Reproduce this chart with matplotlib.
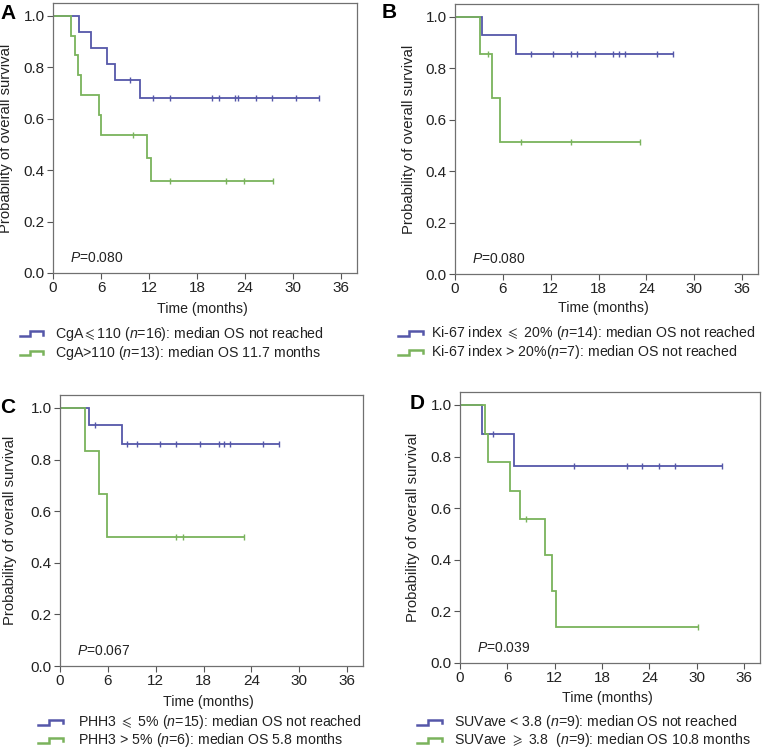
import matplotlib
matplotlib.use("Agg")
import matplotlib.pyplot as plt
from matplotlib.lines import Line2D

plt.rcParams['font.family'] = ['Liberation Sans', 'DejaVu Sans']
plt.rcParams['mathtext.fontset'] = 'custom'
plt.rcParams['mathtext.rm'] = 'Liberation Sans'
plt.rcParams['mathtext.it'] = 'Liberation Sans:italic'
plt.rcParams['mathtext.fallback'] = 'stix'

BLUE = '#5557a9'
GREEN = '#7ab35c'

# ---------------- data ----------------
x_ticks = [0, 6, 12, 18, 24, 30, 36]
y_ticks = [0.0, 0.2, 0.4, 0.6, 0.8, 1.0]

# Panel A (CgA)
A_blue_times = [3.3, 4.8, 6.8, 7.7, 10.9]
A_blue_surv = [0.9375, 0.875, 0.8125, 0.75, 0.682]
A_blue_cens = [9.6, 12.5, 14.6, 19.9, 20.7, 22.7, 23.1, 25.4, 27.4, 30.4, 33.3]
A_green_times = [2.2, 2.8, 3.1, 3.5, 5.8, 6.0, 11.8, 12.3]
A_green_surv = [0.923, 0.846, 0.769, 0.692, 0.615, 0.538, 0.449, 0.359]
A_green_cens = [10.0, 14.6, 21.6, 23.9, 27.5]
A_labels = [r"CgA$\leqslant$110 ($n$=16): median OS not reached",
            r"CgA>110 ($n$=13): median OS 11.7 months"]
A_p = "0.080"

# Panel B (Ki-67)
B_blue_times = [3.4, 7.6]
B_blue_surv = [0.929, 0.857]
B_blue_cens = [9.5, 12.3, 14.5, 15.3, 17.6, 19.8, 20.6, 21.3, 25.3, 27.3]
B_green_times = [3.1, 4.7, 5.7]
B_green_surv = [0.857, 0.686, 0.514]
B_green_cens = [4.2, 8.3, 14.5, 23.2]
B_labels = [r"Ki-67 index $\leqslant$ 20% ($n$=14): median OS not reached",
            r"Ki-67 index > 20%($n$=7): median OS not reached"]
B_p = "0.080"

# Panel C (PHH3)
C_blue_times = [3.6, 7.8]
C_blue_surv = [0.933, 0.86]
C_blue_cens = [4.4, 8.4, 9.7, 12.6, 14.5, 17.6, 19.9, 20.6, 21.3, 25.4, 27.5]
C_green_times = [3.1, 4.9, 5.9]
C_green_surv = [0.833, 0.667, 0.5]
C_green_cens = [14.5, 15.4, 23.1]
C_labels = [r"PHH3 $\leqslant$ 5% ($n$=15): median OS not reached",
            r"PHH3 > 5% ($n$=6): median OS 5.8 months"]
C_p = "0.067"

# Panel D (SUVave)
D_blue_times = [2.8, 6.8]
D_blue_surv = [0.889, 0.762]
D_blue_cens = [4.2, 14.5, 21.2, 23.0, 25.2, 27.2, 33.2]
D_green_times = [3.15, 3.5, 6.3, 7.6, 10.8, 11.7, 12.1]
D_green_surv = [0.889, 0.778, 0.667, 0.556, 0.417, 0.278, 0.139]
D_green_cens = [8.3, 30.2]
D_labels = [r"SUVave < 3.8 ($n$=9): median OS not reached",
            r"SUVave $\geqslant$ 3.8  ($n$=9): median OS 10.8 months"]
D_p = "0.039"

W, H = 764, 751
fig = plt.figure(figsize=(W / 100, H / 100), dpi=100)


def fx(px):
    return px / W


def fy(py):
    return 1 - py / H


def surv_at(t, times, surv):
    s = 1.0
    for tt, ss in zip(times, surv):
        if tt <= t:
            s = ss
    return s


def draw_curve(ax, times, surv, cens, color):
    end = max(cens + times)
    xs = [0] + times + [end]
    ys = [1.0] + surv + [surv[-1]]
    ax.step(xs, ys, where='post', color=color, lw=1.3, solid_joinstyle='miter')
    cy = [surv_at(c, times, surv) for c in cens]
    ax.plot(cens, cy, ls='none', marker='|', ms=4, mew=1.0, color=color)


def legend_icon(x0, x1, yc, color):
    h = 5
    xm = x0 + 0.45 * (x1 - x0)
    xs = [x0, xm, xm, x1, x1]
    ys = [yc + h / 2, yc + h / 2, yc - h / 2, yc - h / 2, yc + h / 4]
    fig.add_artist(Line2D([fx(v) for v in xs], [fy(v) for v in ys],
                          color=color, lw=1.8, solid_joinstyle='miter'))


panels = [
    dict(letter='A', box=(53, 357, 3, 273), letter_xy=(0, 19), ylab_x=-0.132,
         blue=(A_blue_times, A_blue_surv, A_blue_cens),
         green=(A_green_times, A_green_surv, A_green_cens),
         labels=A_labels, p=A_p, xlabel_y=309,
         icon=(20, 43), text_x=55, rows=(334, 353)),
    dict(letter='B', box=(455, 758, 4, 274), letter_xy=(382, 18), ylab_x=-0.129,
         blue=(B_blue_times, B_blue_surv, B_blue_cens),
         green=(B_green_times, B_green_surv, B_green_cens),
         labels=B_labels, p=B_p, xlabel_y=308,
         icon=(398, 423), text_x=431, rows=(333, 352)),
    dict(letter='C', box=(60, 363, 395, 666), letter_xy=(0, 413), ylab_x=-0.142,
         blue=(C_blue_times, C_blue_surv, C_blue_cens),
         green=(C_green_times, C_green_surv, C_green_cens),
         labels=C_labels, p=C_p, xlabel_y=702,
         icon=(38, 63), text_x=78, rows=(722, 740)),
    dict(letter='D', box=(460, 760, 392, 663), letter_xy=(410, 409), ylab_x=-0.133,
         blue=(D_blue_times, D_blue_surv, D_blue_cens),
         green=(D_green_times, D_green_surv, D_green_cens),
         labels=D_labels, p=D_p, xlabel_y=698,
         icon=(417, 442), text_x=454, rows=(722, 740)),
]

for pnl in panels:
    l, r, t, b = pnl['box']
    ax = fig.add_axes([fx(l), fy(b), (r - l) / W, (b - t) / H])
    draw_curve(ax, *pnl['blue'], BLUE)
    draw_curve(ax, *pnl['green'], GREEN)
    ax.set_xlim(0, 38)
    ax.set_ylim(0, 1.05)
    ax.set_xticks(x_ticks)
    ax.set_yticks(y_ticks)
    ax.set_yticklabels([f"{v:.1f}" for v in y_ticks])
    ax.tick_params(direction='out', length=4, width=0.8, color='#555555',
                   labelsize=11, labelcolor='#222222', pad=2)
    for s in ax.spines.values():
        s.set_color('#707070')
        s.set_linewidth(0.9)
    ax.set_ylabel('Probability of overall survival', fontsize=10.7, color='#222222')
    ax.yaxis.set_label_coords(pnl['ylab_x'], 0.5)
    ax.text(2.1, 0.058, rf"$P$=" + pnl['p'], fontsize=10, color='#222222',
            va='center', ha='left')
    fig.text(fx((l + r) / 2 - 3), fy(pnl['xlabel_y']), 'Time (months)', fontsize=10.2,
             color='#222222', ha='center', va='center')
    lx, ly = pnl['letter_xy']
    fig.text(fx(lx), fy(ly), pnl['letter'], fontsize=15, fontweight='bold',
             ha='left', va='baseline', color='black')
    for lab, row, col in zip(pnl['labels'], pnl['rows'], [BLUE, GREEN]):
        legend_icon(pnl['icon'][0], pnl['icon'][1], row, col)
        fig.text(fx(pnl['text_x']), fy(row), lab, fontsize=10.2, color='#222222',
                 ha='left', va='center')

fig.savefig('out.png', dpi=100)
